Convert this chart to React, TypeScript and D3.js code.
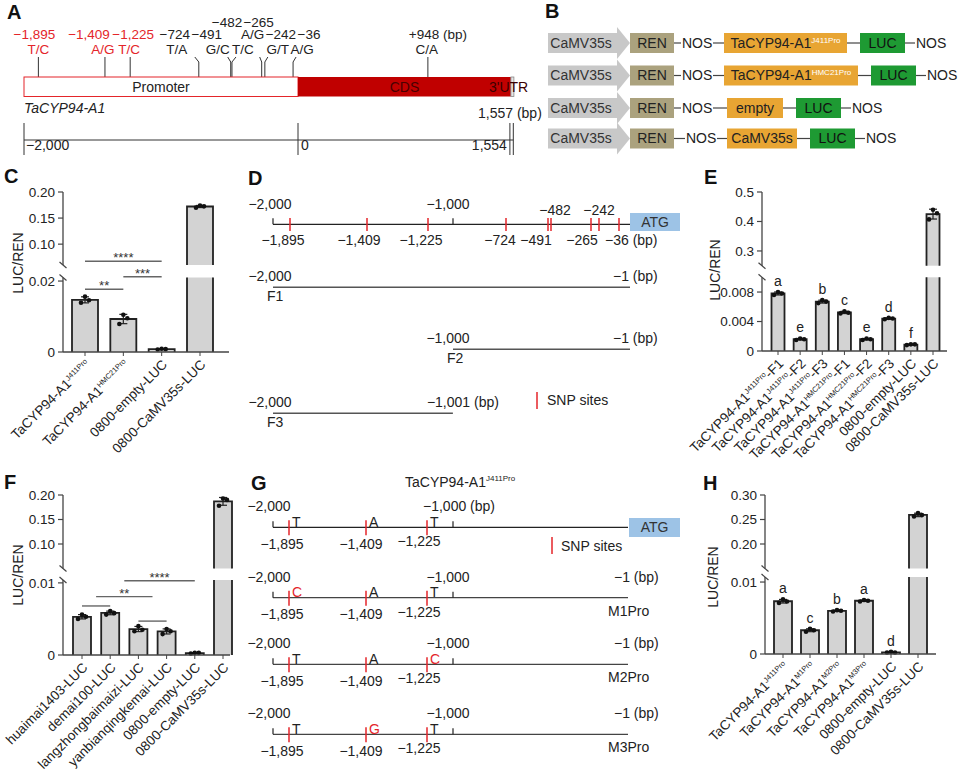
import React from 'react';
import * as d3 from 'd3';

const FONT = "'Liberation Sans', Arial, Helvetica, sans-serif";
const RED = '#e4252a';
const TXT = '#222';

// ---------------- Panel A data ----------------
const aPromoter = [-2000, 0];
const aCds = [0, 1554];
const aUtr = [1554, 1557];
const aSnpPos = [-1895, -1409, -1225, -724, -491, -482, -265, -242, -36, 948];
const aSnpText = ['−1,895', '−1,409', '−1,225', '−724', '−491', '−482', '−265', '−242', '−36', '+948 (bp)'];
const aAlleles = ['T/C', 'A/G', 'T/C', 'T/A', 'G/C', 'T/C', 'A/G', 'G/T', 'A/G', 'C/A'];
const aRedSnps = [-1895, -1409, -1225];
const aScaleTickLabels = ['−2,000', '0', '1,554'];

// ---------------- Panel B data ----------------
const bPromoter = 'CaMV35s';
const bReporter = 'REN';
const bTerminator = 'NOS';
const bLuc = 'LUC';
const bInserts = [
  { main: 'TaCYP94-A1', sup: 'J411Pro' },
  { main: 'TaCYP94-A1', sup: 'HMC21Pro' },
  { main: 'empty' },
  { main: 'CaMV35s' },
];

// ---------------- Panel C data ----------------
const cCategories = [
  { main: 'TaCYP94-A1', sup: 'J411Pro' },
  { main: 'TaCYP94-A1', sup: 'HMC21Pro' },
  { main: '0800-empty-LUC' },
  { main: '0800-CaMV35s-LUC' },
];
const cReplicates = [
  [0.0139, 0.0146, 0.0156],
  [0.0079, 0.0095, 0.0105],
  [0.0007, 0.0008, 0.0009],
  [0.17, 0.1725, 0.174],
];
const cLowerTicks = [0, 0.02];
const cLowerTickLabels = ['0', '0.02'];
const cUpperTicks = [0.1, 0.15, 0.2];
const cUpperTickLabels = ['0.10', '0.15', '0.20'];
const cBrackets = [
  { from: 0, to: 2, level: 0.0256, label: '****' },
  { from: 1, to: 2, level: 0.0212, label: '***' },
  { from: 0, to: 1, level: 0.0177, label: '**' },
];

// ---------------- Panel D data ----------------
const dSnpPos = [-1895, -1409, -1225, -724, -491, -482, -265, -242, -36];
const dSnpText = ['−1,895', '−1,409', '−1,225', '−724', '−491', '−482', '−265', '−242', '−36 (bp)'];
const dAxisTicks = [-2000, -1000];
const dAxisLabels = ['−2,000', '−1,000'];
const dFragments = ['F1', 'F2', 'F3'];
const dFragStart = [-2000, -1000, -2000];
const dFragEnd = [-1, -1, -1001];
const dFragStartText = ['−2,000', '−1,000', '−2,000'];
const dFragEndText = ['−1 (bp)', '−1 (bp)', '−1,001 (bp)'];

// ---------------- Panel E data ----------------
const eCategories = [
  { main: 'TaCYP94-A1', sup: 'J411Pro', suffix: '-F1' },
  { main: 'TaCYP94-A1', sup: 'J411Pro', suffix: '-F2' },
  { main: 'TaCYP94-A1', sup: 'J411Pro', suffix: '-F3' },
  { main: 'TaCYP94-A1', sup: 'HMC21Pro', suffix: '-F1' },
  { main: 'TaCYP94-A1', sup: 'HMC21Pro', suffix: '-F2' },
  { main: 'TaCYP94-A1', sup: 'HMC21Pro', suffix: '-F3' },
  { main: '0800-empty-LUC' },
  { main: '0800-CaMV35s-LUC' },
];
const eReplicates = [
  [0.0076, 0.0078, 0.008],
  [0.0015, 0.0016, 0.0017],
  [0.0065, 0.0067, 0.0069],
  [0.0051, 0.0052, 0.0054],
  [0.0015, 0.0016, 0.0017],
  [0.0043, 0.0044, 0.0045],
  [0.0008, 0.0009, 0.0009],
  [0.407, 0.428, 0.44],
];
const eLetters = ['a', 'e', 'b', 'c', 'e', 'd', 'f', ''];
const eLowerTicks = [0, 0.004, 0.008];
const eLowerTickLabels = ['0', '0.004', '0.008'];
const eUpperTicks = [0.3, 0.4, 0.5];
const eUpperTickLabels = ['0.3', '0.4', '0.5'];

// ---------------- Panel F data ----------------
const fCategories = [
  { main: 'huaimai1403-LUC' },
  { main: 'demai100-LUC' },
  { main: 'langzhongbaimaizi-LUC' },
  { main: 'yanbianqingkemai-LUC' },
  { main: '0800-empty-LUC' },
  { main: '0800-CaMV35s-LUC' },
];
const fReplicates = [
  [0.005, 0.0053, 0.0056],
  [0.0056, 0.0058, 0.0061],
  [0.0033, 0.0035, 0.004],
  [0.0029, 0.0033, 0.0036],
  [0.0002, 0.0003, 0.0003],
  [0.178, 0.19, 0.193],
];
const fLowerTicks = [0, 0.01];
const fLowerTickLabels = ['0', '0.01'];
const fUpperTicks = [0.1, 0.15, 0.2];
const fUpperTickLabels = ['0.10', '0.15', '0.20'];
const fBrackets = [
  { from: 0, to: 1, level: 0.0068, label: '' },
  { from: 0.5, to: 2.5, level: 0.0081, label: '**' },
  { from: 1.5, to: 4, level: 0.0103, label: '****' },
  { from: 2, to: 3, level: 0.0047, label: '' },
];

// ---------------- Panel G data ----------------
const gTitle = { main: 'TaCYP94-A1', sup: 'J411Pro' };
const gSnpPos = [-1895, -1409, -1225];
const gSnpText = ['−1,895', '−1,409', '−1,225'];
const gConstructs = ['', 'M1Pro', 'M2Pro', 'M3Pro'];
const gAlleles = [
  ['T', 'A', 'T'],
  ['C', 'A', 'T'],
  ['T', 'A', 'C'],
  ['T', 'G', 'T'],
];
const gMutated = [
  [false, false, false],
  [true, false, false],
  [false, false, true],
  [false, true, false],
];

// ---------------- Panel H data ----------------
const hCategories = [
  { main: 'TaCYP94-A1', sup: 'J411Pro' },
  { main: 'TaCYP94-A1', sup: 'M1Pro' },
  { main: 'TaCYP94-A1', sup: 'M2Pro' },
  { main: 'TaCYP94-A1', sup: 'M3Pro' },
  { main: '0800-empty-LUC' },
  { main: '0800-CaMV35s-LUC' },
];
const hReplicates = [
  [0.0071, 0.0073, 0.0076],
  [0.0031, 0.0033, 0.0035],
  [0.0059, 0.006, 0.0061],
  [0.0073, 0.0074, 0.0075],
  [0.0002, 0.0002, 0.0003],
  [0.256, 0.259, 0.263],
];
const hLetters = ['a', 'c', 'b', 'a', 'd', ''];
const hLowerTicks = [0, 0.01];
const hLowerTickLabels = ['0', '0.01'];
const hUpperTicks = [0.2, 0.25, 0.3];
const hUpperTickLabels = ['0.20', '0.25', '0.30'];

// ---------------- layout helpers ----------------
type Lbl = { main: string; sup?: string; suffix?: string };

// schematic (not-to-scale) promoter axis used in D and G
const schemDomain = [-2000, -1895, -1409, -1225, -1000, -724, -491, -482, -265, -242, -36, -1];
const schemRange = [273, 290, 367, 428, 453, 506, 548, 551, 591, 599, 619, 630];
const xSchem = d3.scaleLinear().domain(schemDomain).range(schemRange);

function PanelLetter({ x, y, t }: { x: number; y: number; t: string }) {
  return (
    <text x={x} y={y} fontSize={20} fontWeight="bold" fill="#111">
      {t}
    </text>
  );
}

function PanelA() {
  const xA = d3.scaleLinear().domain([-2000, 0]).range([24, 298]);
  const barTop = 77;
  const barH = 19.5;
  const rowsY = [26.5, 38.5, 53.5];
  const labelDx = [-4, -16, 3, -24, -24, -5, -3, 16, 16, 10];
  const labelRow = [1, 1, 1, 1, 1, 0, 0, 1, 1, 1];
  const alleleDx = [0, -2, -1, -22, -13, 11, -9, 13, 9, -1];
  const alleleRow = [2, 2, 2, 2, 2, 2, 1, 2, 2, 2];
  const topDx = [0, 0, 0, -4, -3, 4, -2, 3, 3, 0];
  const scaleY = 140;
  return (
    <g fontSize={14} fill={TXT}>
      <PanelLetter x={7} y={19} t="A" />
      {aSnpPos.map((p, i) => {
        const x = xA(p);
        const red = aRedSnps.includes(p);
        return (
          <g key={i} fontSize={13.5}>
            <polyline
              points={`${x},${barTop} ${x},62 ${x + topDx[i]},57`}
              fill="none"
              stroke="#333"
              strokeWidth={1}
            />
            <text x={x + labelDx[i]} y={rowsY[labelRow[i]]} textAnchor="middle" fill={red ? RED : TXT}>
              {aSnpText[i]}
            </text>
            <text x={x + alleleDx[i]} y={rowsY[alleleRow[i]]} textAnchor="middle" fill={red ? RED : TXT}>
              {aAlleles[i]}
            </text>
          </g>
        );
      })}
      <rect
        x={xA(aPromoter[0])}
        y={barTop}
        width={xA(aPromoter[1]) - xA(aPromoter[0])}
        height={barH}
        fill="#fff"
        stroke={RED}
        strokeWidth={1}
      />
      <rect x={xA(aCds[0])} y={barTop} width={xA(aCds[1]) - xA(aCds[0])} height={barH} fill="#c00000" />
      <rect
        x={xA(aUtr[0])}
        y={barTop}
        width={Math.max(3, xA(aUtr[1]) - xA(aUtr[0]))}
        height={barH}
        fill="#e6e6e6"
        stroke="#888"
        strokeWidth={0.8}
      />
      <text x={(xA(aPromoter[0]) + xA(aPromoter[1])) / 2} y={92} textAnchor="middle">
        Promoter
      </text>
      <text x={(xA(aCds[0]) + xA(aCds[1])) / 2} y={92} textAnchor="middle" fill="#4a0000">
        CDS
      </text>
      <text x={489} y={92} fill="#3a0000">
        3'UTR
      </text>
      <text x={24} y={113} fontStyle="italic">
        TaCYP94-A1
      </text>
      <text x={478} y={118}>
        1,557 (bp)
      </text>
      <line x1={xA(-2000)} x2={xA(aUtr[1]) + 2} y1={scaleY} y2={scaleY} stroke="#333" strokeWidth={1} />
      {[xA(-2000), xA(0), xA(aCds[1]) - 1, xA(aUtr[1]) + 2].map((x, i) => (
        <line key={i} x1={x} x2={x} y1={123} y2={155} stroke="#333" strokeWidth={1} />
      ))}
      <text x={xA(-2000) + 2} y={150}>
        {aScaleTickLabels[0]}
      </text>
      <text x={xA(0) + 3} y={150}>
        {aScaleTickLabels[1]}
      </text>
      <text x={xA(aCds[1]) - 4} y={150} textAnchor="end">
        {aScaleTickLabels[2]}
      </text>
    </g>
  );
}

function PanelB() {
  const rowY = [43, 75.5, 108, 138.5];
  const insertX = [724, 724, 727, 727];
  const insertW = [123, 134, 56, 70];
  const nos1X = [682, 682, 682, 686];
  const orange = '#e8a533';
  const green = '#1e9a33';
  return (
    <g fontSize={14} fill={TXT}>
      <PanelLetter x={545} y={18} t="B" />
      {rowY.map((y, i) => {
        const ix = insertX[i];
        const iw = insertW[i];
        const lucX = ix + iw + 13;
        const nos2X = lucX + 45 + 11;
        const ins = bInserts[i];
        return (
          <g key={i}>
            <path
              d={`M548,${y - 10} H617 V${y - 16} L630,${y} L617,${y + 16} V${y + 10} H548 Z`}
              fill="#c8c8c8"
            />
            <text x={581} y={y} dy="0.35em" textAnchor="middle" fill="#333">
              {bPromoter}
            </text>
            <rect x={630} y={y - 10} width={44} height={20} fill="#aba27e" />
            <text x={652} y={y} dy="0.35em" textAnchor="middle">
              {bReporter}
            </text>
            <line x1={674} x2={nos1X[i] - 1} y1={y} y2={y} stroke="#444" strokeWidth={1.2} />
            <text x={nos1X[i]} y={y} dy="0.35em">
              {bTerminator}
            </text>
            <line x1={nos1X[i] + 31} x2={ix} y1={y} y2={y} stroke="#444" strokeWidth={1.2} />
            <rect x={ix} y={y - 10} width={iw} height={20} fill={orange} />
            <text x={ix + iw / 2} y={y} dy="0.35em" textAnchor="middle">
              {ins.main}
              {ins.sup && (
                <tspan fontSize={8} dy={-5} fill="#fff">
                  {ins.sup}
                </tspan>
              )}
            </text>
            <line x1={ix + iw} x2={lucX} y1={y} y2={y} stroke="#444" strokeWidth={1.2} />
            <rect x={lucX} y={y - 10} width={45} height={20} fill={green} />
            <text x={lucX + 22.5} y={y} dy="0.35em" textAnchor="middle" fill="#111">
              {bLuc}
            </text>
            <line x1={lucX + 45} x2={nos2X - 1} y1={y} y2={y} stroke="#444" strokeWidth={1.2} />
            <text x={nos2X} y={y} dy="0.35em">
              {bTerminator}
            </text>
          </g>
        );
      })}
    </g>
  );
}

function XLabel({ x, y, l }: { x: number; y: number; l: Lbl }) {
  return (
    <text transform={`translate(${x},${y}) rotate(-45)`} textAnchor="end" dy="0.35em" fontSize={13.5} fill={TXT}>
      {l.main}
      {l.sup && (
        <tspan fontSize={7.5} dy={-5}>
          {l.sup}
        </tspan>
      )}
      {l.suffix && <tspan dy={l.sup ? 5 : 0}>{l.suffix}</tspan>}
    </text>
  );
}

type BarCfg = {
  axisX: number;
  axisEnd: number;
  y0: number;
  lowMax: number;
  lowTopY: number;
  upMin: number;
  upMax: number;
  upBotY: number;
  upTopY: number;
  c0: number;
  c1: number;
  barW: number;
  titleX: number;
  titleY: number;
};

function BarPanel(props: {
  cats: Lbl[];
  reps: number[][];
  letters?: string[];
  brackets?: { from: number; to: number; level: number; label: string }[];
  lowTicks: number[];
  lowTickLabels: string[];
  upTicks: number[];
  upTickLabels: string[];
  cfg: BarCfg;
}) {
  const { cats, reps, letters, brackets, lowTicks, lowTickLabels, upTicks, upTickLabels, cfg } = props;
  const { axisX, axisEnd, y0, lowMax, lowTopY, upMin, upMax, upBotY, upTopY, c0, c1, barW, titleX, titleY } = cfg;
  const yLow = d3.scaleLinear().domain([0, lowMax]).range([y0, lowTopY]);
  const yUp = d3.scaleLinear().domain([upMin, upMax]).range([upBotY, upTopY]);
  const keys = cats.map((_, i) => String(i));
  const x = d3.scalePoint<string>().domain(keys).range([c0, c1]);
  const xf = (f: number) => {
    const lo = Math.floor(f);
    const hi = Math.min(Math.ceil(f), keys.length - 1);
    const a = x(keys[lo]) as number;
    const b = x(keys[hi]) as number;
    return a + (b - a) * (f - lo);
  };
  const yv = (v: number) => (v <= lowMax ? yLow(v) : yUp(v));
  const dotDx = [-4, 4, 0];
  const axisColor = '#444';
  const barStroke = '#222';
  return (
    <g fontFamily={FONT}>
      <line x1={axisX} x2={axisX} y1={yUp(upMax)} y2={yUp(upMin)} stroke={axisColor} strokeWidth={1.3} />
      <line x1={axisX} x2={axisX} y1={yLow(lowMax)} y2={yLow(0)} stroke={axisColor} strokeWidth={1.3} />
      <line x1={axisX - 3.5} x2={axisX + 3.5} y1={upBotY - 3} y2={upBotY + 3} stroke={axisColor} strokeWidth={1.2} />
      <line x1={axisX - 3.5} x2={axisX + 3.5} y1={lowTopY - 3} y2={lowTopY + 3} stroke={axisColor} strokeWidth={1.2} />
      {upTicks.map((t, i) => (
        <g key={'u' + i}>
          <line x1={axisX - 5} x2={axisX} y1={yUp(t)} y2={yUp(t)} stroke={axisColor} strokeWidth={1.2} />
          <text x={axisX - 8} y={yUp(t)} dy="0.35em" textAnchor="end" fontSize={13.5} fill={TXT}>
            {upTickLabels[i]}
          </text>
        </g>
      ))}
      {lowTicks.map((t, i) => (
        <g key={'l' + i}>
          <line x1={axisX - 5} x2={axisX} y1={yLow(t)} y2={yLow(t)} stroke={axisColor} strokeWidth={1.2} />
          <text x={axisX - 8} y={yLow(t)} dy="0.35em" textAnchor="end" fontSize={13.5} fill={TXT}>
            {lowTickLabels[i]}
          </text>
        </g>
      ))}
      <text
        transform={`translate(${titleX},${titleY}) rotate(-90)`}
        textAnchor="middle"
        dy="0.35em"
        fontSize={14}
        fill={TXT}
      >
        LUC/REN
      </text>
      {reps.map((r, i) => {
        const m = d3.mean(r) as number;
        const sd = d3.deviation(r) as number;
        const cx = x(keys[i]) as number;
        const l = cx - barW / 2;
        const rr = cx + barW / 2;
        const broken = m > lowMax;
        const top = yv(m);
        const eTop = yv(m + sd);
        const eBot = yv(m - sd);
        return (
          <g key={i}>
            {broken ? (
              <>
                <rect x={l} y={top} width={barW} height={upBotY - top} fill="#d3d3d3" />
                <rect x={l} y={lowTopY} width={barW} height={y0 - lowTopY} fill="#d3d3d3" />
                <path
                  d={`M${l},${upBotY} V${top} H${rr} V${upBotY} M${l},${lowTopY} V${y0} M${rr},${lowTopY} V${y0}`}
                  fill="none"
                  stroke={barStroke}
                  strokeWidth={1.8}
                />
              </>
            ) : (
              <>
                <rect x={l} y={top} width={barW} height={y0 - top} fill="#d3d3d3" />
                <path d={`M${l},${y0} V${top} H${rr} V${y0}`} fill="none" stroke={barStroke} strokeWidth={1.8} />
              </>
            )}
            <line x1={cx} x2={cx} y1={eTop} y2={eBot} stroke={barStroke} strokeWidth={1.2} />
            <line x1={cx - 4} x2={cx + 4} y1={eTop} y2={eTop} stroke={barStroke} strokeWidth={1.2} />
            <line x1={cx - 4} x2={cx + 4} y1={eBot} y2={eBot} stroke={barStroke} strokeWidth={1.2} />
            {r.map((v, j) => (
              <circle key={j} cx={cx + dotDx[j]} cy={yv(v)} r={2.3} fill="#111" />
            ))}
            {letters && letters[i] && (
              <text x={cx} y={eTop - 6} textAnchor="middle" fontSize={14} fill={TXT}>
                {letters[i]}
              </text>
            )}
          </g>
        );
      })}
      <line x1={axisX} x2={axisEnd} y1={y0} y2={y0} stroke={axisColor} strokeWidth={1.3} />
      {keys.map((k, i) => (
        <g key={'x' + i}>
          <line x1={x(k)} x2={x(k)} y1={y0} y2={y0 + 4} stroke={axisColor} strokeWidth={1} />
          <XLabel x={(x(k) as number) + 3} y={y0 + 10} l={cats[i]} />
        </g>
      ))}
      {brackets &&
        brackets.map((b, i) => {
          const yy = yLow(b.level);
          const x1 = xf(b.from);
          const x2 = xf(b.to);
          return (
            <g key={'b' + i}>
              <line x1={x1} x2={x2} y1={yy} y2={yy} stroke="#666" strokeWidth={1.4} />
              {b.label && (
                <text x={(x1 + x2) / 2} y={yy + 1} textAnchor="middle" fontSize={13} fill="#333">
                  {b.label}
                </text>
              )}
            </g>
          );
        })}
    </g>
  );
}

function PanelD() {
  const lineY = 224.3;
  const belowDx = [-7, -8, -7, -6, -12, 4, -9, 0, -14];
  const above = [false, false, false, false, false, true, false, true, false];
  const fragY = [287.3, 349.3, 413.3];
  const endDx = [-17, -17, -26];
  return (
    <g fontSize={14} fill={TXT}>
      <PanelLetter x={248} y={185} t="D" />
      {dAxisTicks.map((t, i) => (
        <g key={i}>
          <line x1={xSchem(t)} x2={xSchem(t)} y1={lineY} y2={lineY - 6} stroke="#222" strokeWidth={1.2} />
          <text x={xSchem(t) - (i === 0 ? 3 : 5)} y={209} textAnchor="middle">
            {dAxisLabels[i]}
          </text>
        </g>
      ))}
      <line x1={xSchem(-2000)} x2={xSchem(-1)} y1={lineY} y2={lineY} stroke="#222" strokeWidth={1.3} />
      <rect x={xSchem(-1)} y={213} width={50} height={18} fill="#9dc3e6" />
      <text x={xSchem(-1) + 25} y={222} dy="0.35em" textAnchor="middle" fill="#333">
        ATG
      </text>
      {dSnpPos.map((p, i) => {
        const xx = xSchem(p);
        const last = i === dSnpPos.length - 1;
        return (
          <g key={i}>
            <line x1={xx} x2={xx} y1={218} y2={231} stroke={RED} strokeWidth={1.5} />
            <text
              x={xx + belowDx[i]}
              y={above[i] ? 215 : 245}
              textAnchor={last ? 'start' : 'middle'}
            >
              {dSnpText[i]}
            </text>
          </g>
        );
      })}
      {dFragments.map((f, i) => {
        const y = fragY[i];
        const xs = xSchem(dFragStart[i]);
        const xe = xSchem(dFragEnd[i]);
        return (
          <g key={f}>
            <line x1={xs} x2={xe} y1={y} y2={y} stroke="#555" strokeWidth={1.6} />
            <text x={xs - (dFragStart[i] === -2000 ? 3 : 5)} y={y - 6.5} textAnchor="middle">
              {dFragStartText[i]}
            </text>
            <text x={xe + endDx[i]} y={y - 6.5}>
              {dFragEndText[i]}
            </text>
            <text x={xs - 6} y={y + 14}>
              {f}
            </text>
          </g>
        );
      })}
      <line x1={537} x2={537} y1={392} y2={409} stroke={RED} strokeWidth={1.5} />
      <text x={547} y={405}>
        SNP sites
      </text>
    </g>
  );
}

function PanelG() {
  const rowY = [527.3, 597.7, 664.3, 734.3];
  const belowDx = [-7, -5, -8];
  return (
    <g fontSize={14} fill={TXT}>
      <PanelLetter x={251} y={490} t="G" />
      <text x={405} y={487}>
        {gTitle.main}
        <tspan fontSize={8} dy={-6}>
          {gTitle.sup}
        </tspan>
      </text>
      {rowY.map((y, r) => (
        <g key={r}>
          <line x1={xSchem(-2000)} x2={xSchem(-1) - 2} y1={y} y2={y} stroke={r === 0 ? '#222' : '#444'} strokeWidth={1.3} />
          {[-2000, -1000].map((t) => (
            <line key={t} x1={xSchem(t)} x2={xSchem(t)} y1={y} y2={y - 6} stroke="#222" strokeWidth={1.2} />
          ))}
          <text x={xSchem(-2000) - 4} y={y - 16} textAnchor="middle">
            −2,000
          </text>
          {r === 0 ? (
            <text x={423} y={y - 16}>
              −1,000 (bp)
            </text>
          ) : (
            <>
              <text x={xSchem(-1000) - 5} y={y - 16} textAnchor="middle">
                −1,000
              </text>
              <text x={xSchem(-1) - 16} y={y - 16}>
                −1 (bp)
              </text>
              <text x={xSchem(-1) - 22} y={y + 18}>
                {gConstructs[r]}
              </text>
            </>
          )}
          {gSnpPos.map((p, i) => {
            const xx = xSchem(p) - 1;
            return (
              <g key={i}>
                <line x1={xx} x2={xx} y1={y - 7} y2={y + 8} stroke={RED} strokeWidth={1.5} />
                <text x={xx + 3} y={y - 0.5} fill={gMutated[r][i] ? RED : TXT}>
                  {gAlleles[r][i]}
                </text>
                <text x={xx + belowDx[i]} y={y + (i === 2 ? 19 : 21.7)} textAnchor="middle">
                  {gSnpText[i]}
                </text>
              </g>
            );
          })}
        </g>
      ))}
      <rect x={xSchem(-1) - 1} y={518} width={51} height={19} fill="#9dc3e6" />
      <text x={xSchem(-1) + 24.5} y={527.5} dy="0.35em" textAnchor="middle" fill="#333">
        ATG
      </text>
      <line x1={552} x2={552} y1={537} y2={554} stroke={RED} strokeWidth={1.5} />
      <text x={561} y={551}>
        SNP sites
      </text>
    </g>
  );
}

export default function App() {
  return (
    <svg
      width={963}
      height={783}
      viewBox="0 0 963 783"
      style={{ position: 'absolute', left: 0, top: 0, background: '#fff' }}
      fontFamily={FONT}
    >
      <rect width={963} height={783} fill="#fff" />
      <PanelA />
      <PanelB />
      <PanelLetter x={4} y={183} t="C" />
      <BarPanel
        cats={cCategories}
        reps={cReplicates}
        brackets={cBrackets}
        lowTicks={cLowerTicks}
        lowTickLabels={cLowerTickLabels}
        upTicks={cUpperTicks}
        upTickLabels={cUpperTickLabels}
        cfg={{
          axisX: 63, axisEnd: 229, y0: 352, lowMax: 0.021, lowTopY: 277.5, upMin: 0.06, upMax: 0.2,
          upBotY: 265, upTopY: 192, c0: 85, c1: 200, barW: 26, titleX: 18, titleY: 263,
        }}
      />
      <PanelD />
      <PanelLetter x={704} y={184} t="E" />
      <BarPanel
        cats={eCategories}
        reps={eReplicates}
        letters={eLetters}
        lowTicks={eLowerTicks}
        lowTickLabels={eLowerTickLabels}
        upTicks={eUpperTicks}
        upTickLabels={eUpperTickLabels}
        cfg={{
          axisX: 762, axisEnd: 947, y0: 351, lowMax: 0.01, lowTopY: 277.3, upMin: 0.25, upMax: 0.5,
          upBotY: 265.7, upTopY: 192, c0: 778, c1: 933, barW: 13, titleX: 715, titleY: 270,
        }}
      />
      <PanelLetter x={4} y={489} t="F" />
      <BarPanel
        cats={fCategories}
        reps={fReplicates}
        brackets={fBrackets}
        lowTicks={fLowerTicks}
        lowTickLabels={fLowerTickLabels}
        upTicks={fUpperTicks}
        upTickLabels={fUpperTickLabels}
        cfg={{
          axisX: 63, axisEnd: 230, y0: 655, lowMax: 0.0104, lowTopY: 580, upMin: 0.05, upMax: 0.2,
          upBotY: 568.5, upTopY: 495, c0: 82, c1: 223, barW: 18, titleX: 18, titleY: 575,
        }}
      />
      <PanelG />
      <PanelLetter x={703} y={490} t="H" />
      <BarPanel
        cats={hCategories}
        reps={hReplicates}
        letters={hLetters}
        lowTicks={hLowerTicks}
        lowTickLabels={hLowerTickLabels}
        upTicks={hUpperTicks}
        upTickLabels={hUpperTickLabels}
        cfg={{
          axisX: 765, axisEnd: 936, y0: 654, lowMax: 0.0107, lowTopY: 577, upMin: 0.15, upMax: 0.3,
          upBotY: 568.5, upTopY: 495, c0: 783, c1: 918, barW: 18, titleX: 713, titleY: 577,
        }}
      />
    </svg>
  );
}
